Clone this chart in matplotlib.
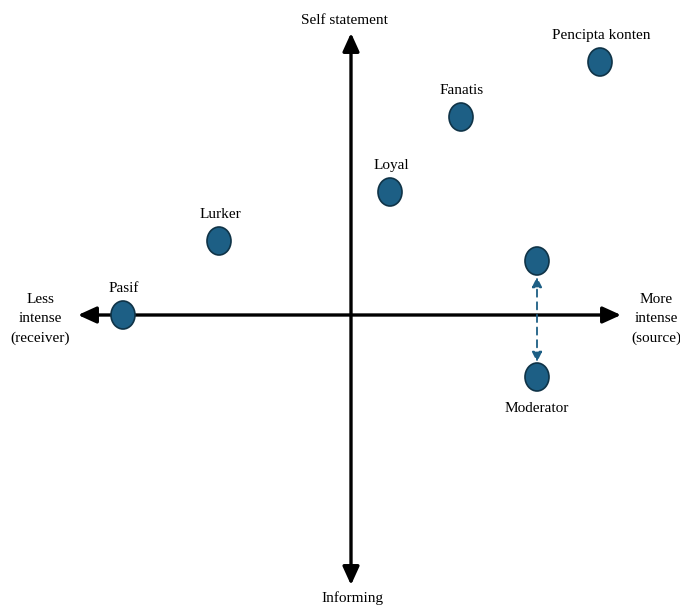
import matplotlib.pyplot as plt
from matplotlib.patches import Ellipse

# positions relative to the crossing of the two axes (x: intensity, y: statement)
labels = ['Pencipta konten', 'Fanatis', 'Loyal', 'Lurker', 'Pasif', '', 'Moderator']
x_vals = [249, 110, 39, -132, -228, 186, 186]
y_vals = [253, 198, 123, 74, 0, 54, -62]

axis_left = -273
axis_right = 270
axis_top = 282
axis_bottom = -270

fill = '#1d5f85'
edge = '#0f3347'
font = ['Liberation Serif', 'DejaVu Serif']

fig = plt.figure(figsize=(6.8, 6.06), dpi=100)
ax = fig.add_axes([0, 0, 1, 1])
ax.set_xlim(-351, 329)
ax.set_ylim(-291, 315)
ax.axis('off')

axis_arrow = dict(arrowstyle='<|-|>,head_length=1.1,head_width=0.5', lw=2.4,
                  color='black', shrinkA=0, shrinkB=0, mutation_scale=10)
ax.annotate('', xy=(axis_left, 0), xytext=(axis_right, 0), arrowprops=axis_arrow)
ax.annotate('', xy=(0, axis_top), xytext=(0, axis_bottom), arrowprops=axis_arrow)

ax.text(-7, 294, 'Self statement', ha='center', va='center', fontsize=11, family=font)
ax.text(1, -283, 'Informing', ha='center', va='center', fontsize=11, family=font)
ax.text(-311, -4, 'Less\nintense\n(receiver)', ha='center', va='center', fontsize=11,
        family=font, linespacing=1.6)
ax.text(305, -4, 'More\nintense\n(source)', ha='center', va='center', fontsize=11,
        family=font, linespacing=1.6)

# dashed link between the two moderator positions
ax.annotate('', xy=(x_vals[5], y_vals[5] - 16), xytext=(x_vals[6], y_vals[6] + 15),
            arrowprops=dict(arrowstyle='<|-|>,head_length=0.6,head_width=0.3', lw=1.3,
                            ls=(0, (4, 3)), color=fill, shrinkA=0, shrinkB=0,
                            mutation_scale=10))

for lab, x, y in zip(labels, x_vals, y_vals):
    ax.add_patch(Ellipse((x, y), 24, 28, facecolor=fill, edgecolor=edge, lw=1.2, zorder=5))
    if lab == 'Moderator':
        ax.text(x, y - 31, lab, ha='center', va='center', fontsize=11, family=font)
    elif lab:
        ax.text(x + 1, y + 27, lab, ha='center', va='center', fontsize=11, family=font)

fig.savefig('out.png', dpi=100)
